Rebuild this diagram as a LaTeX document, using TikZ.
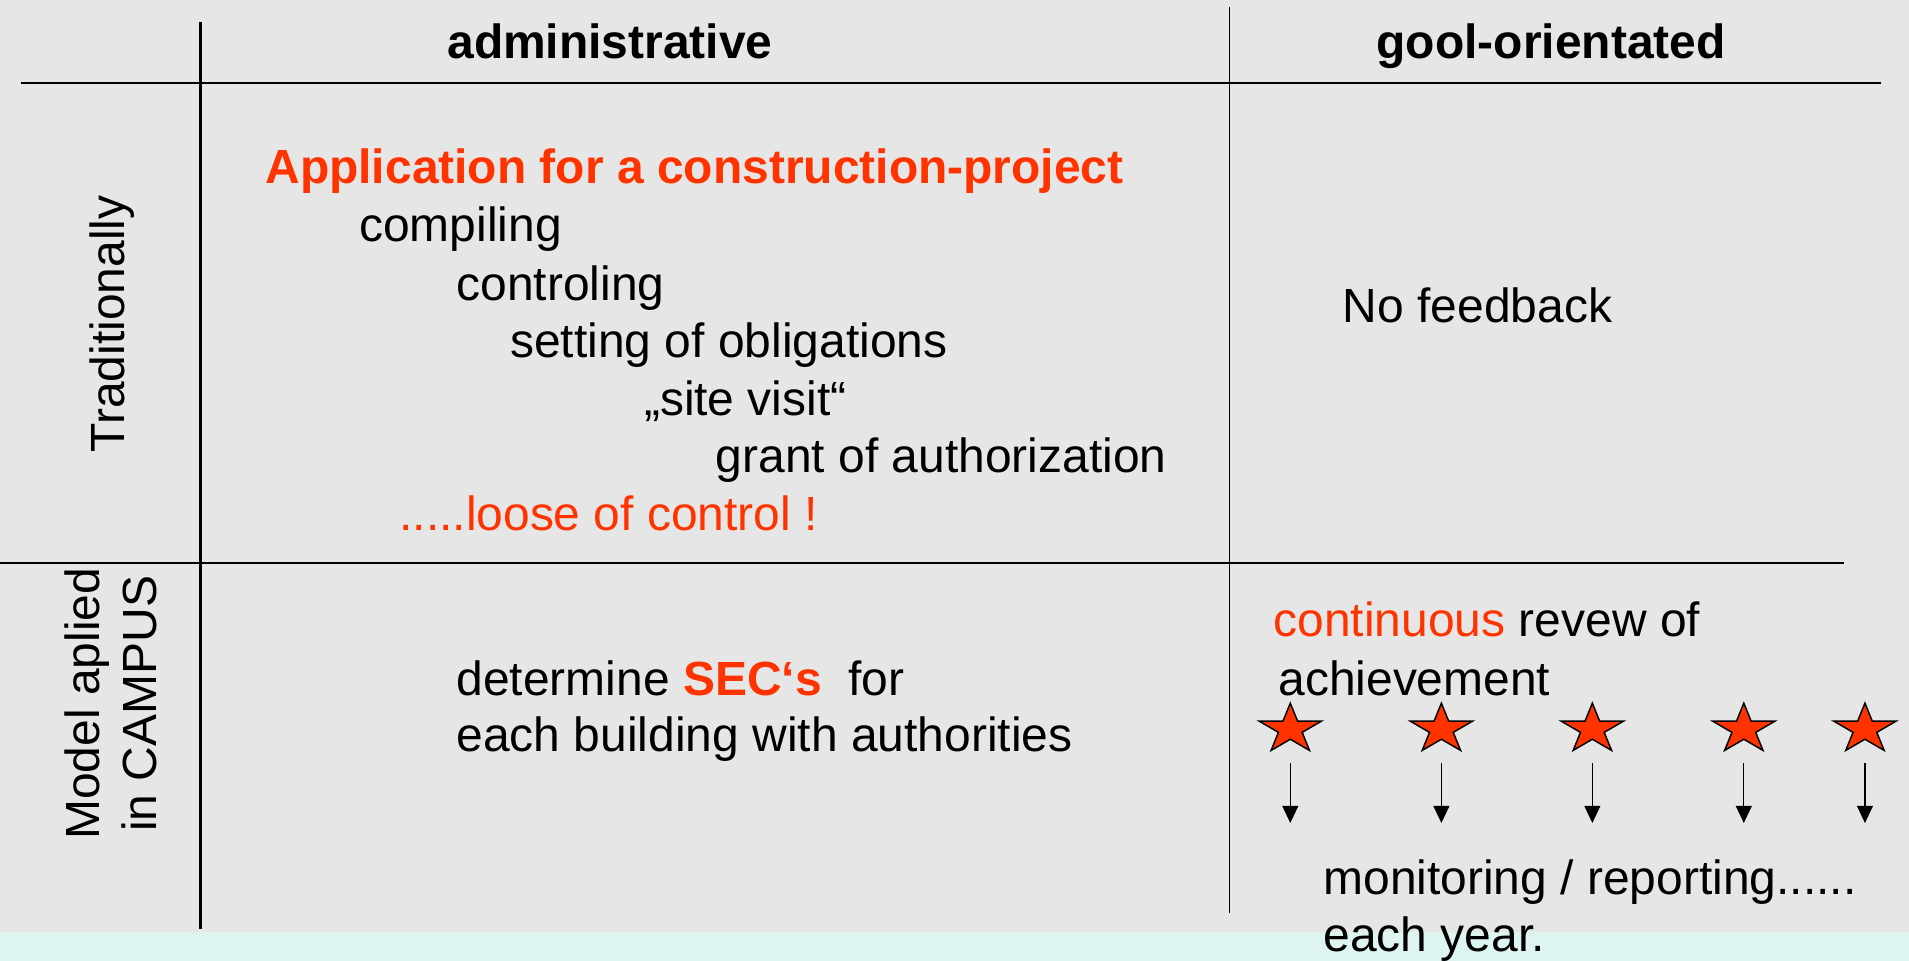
\documentclass[tikz,border=0pt]{standalone}
\usepackage{fontspec}
\setmainfont{Liberation Sans}
\usetikzlibrary{shapes.geometric,arrows.meta}
\definecolor{bggray}{HTML}{E6E6E6}
\definecolor{bandcyan}{HTML}{DDF4F0}
\definecolor{hot}{HTML}{FF3300}
\tikzset{
  txt/.style={anchor=base west,inner sep=0pt,outer sep=0pt,font=\fontsize{39.4}{47}\selectfont},
  hdr/.style={anchor=base,inner sep=0pt,font=\fontsize{39.4}{47}\selectfont\bfseries},
  side/.style={rotate=90,align=center,inner sep=0pt,font=\fontsize{39.4}{47}\selectfont},
  starnode/.style={star,star points=5,star point ratio=2.618,minimum size=53.6pt,inner sep=0pt,draw=black,line width=1.2pt,fill=hot,transform shape},
  arr/.style={line width=1.1pt,-{Triangle[length=14pt,width=13pt]}},
}
\begin{document}
\begin{tikzpicture}[x=1pt,y=-1pt]
\useasboundingbox (0,0) rectangle (1568,789);
\fill[bggray] (0,0) rectangle (1568,789);
\fill[bandcyan] (0,765.5) rectangle (1568,789);
% grid lines
\draw[line width=2.3pt] (17,68.2) -- (1545,68.2);
\draw[line width=2.3pt] (165,18) -- (165,763);
\draw[line width=1.7pt] (0,462.4) -- (1515,462.4);
\draw[line width=1.1pt] (1010,5.7) -- (1010,750);
% headers
\node[hdr] (h1) at (501,48) {administrative};
\node[hdr] (h2) at (1274,48) {gool-orientated};
\node[side] (r1) at (92,266) {Traditionally};
\node[side] (r2) at (91,578) {Model aplied\\in CAMPUS};
% traditional column
\node[txt,text=hot,font=\fontsize{39.4}{47}\selectfont\bfseries] (t0) at (218,150.5) {Application for a construction-project};
\node[txt] (t1) at (295,198.5) {compiling};
\node[txt] (t2) at (375,247) {controling};
\node[txt] (t3) at (419,294) {setting of obligations};
\node[txt] (t4) at (529,341) {„site visit“};
\node[txt] (t5) at (588,388) {grant of authorization};
\node[txt,text=hot] (t6) at (328,436) {.....loose of control !};
\node[txt] (nf) at (1103,265) {No feedback};
% model column
\node[txt] (m1) at (375,571) {determine \textcolor{hot}{\bfseries SEC‘s}\ \ for};
\node[txt] (m2) at (375,617.4) {each building with authorities};
\node[txt] (g1) at (1046,523) {\textcolor{hot}{continuous} revew of};
\node[txt] (g2) at (1050,571) {achievement};
\node[txt] (g3) at (1087,735) {monitoring / reporting......};
\node[txt] (g4) at (1087,781.7) {each year.};
% stars and arrows
\foreach \i/\x in {1/1059.8,2/1183.9,3/1307.9,4/1432.3,5/1531.8}{
  \begin{scope}[shift={(\x,599)},yscale=0.8]
    \node[starnode] (s\i) at (0,0) {};
  \end{scope}
  \coordinate (a\i) at (\x,627);
  \coordinate (b\i) at (\x,676);
  \draw[arr] (a\i) -- (b\i);
}
\end{tikzpicture}
\end{document}
